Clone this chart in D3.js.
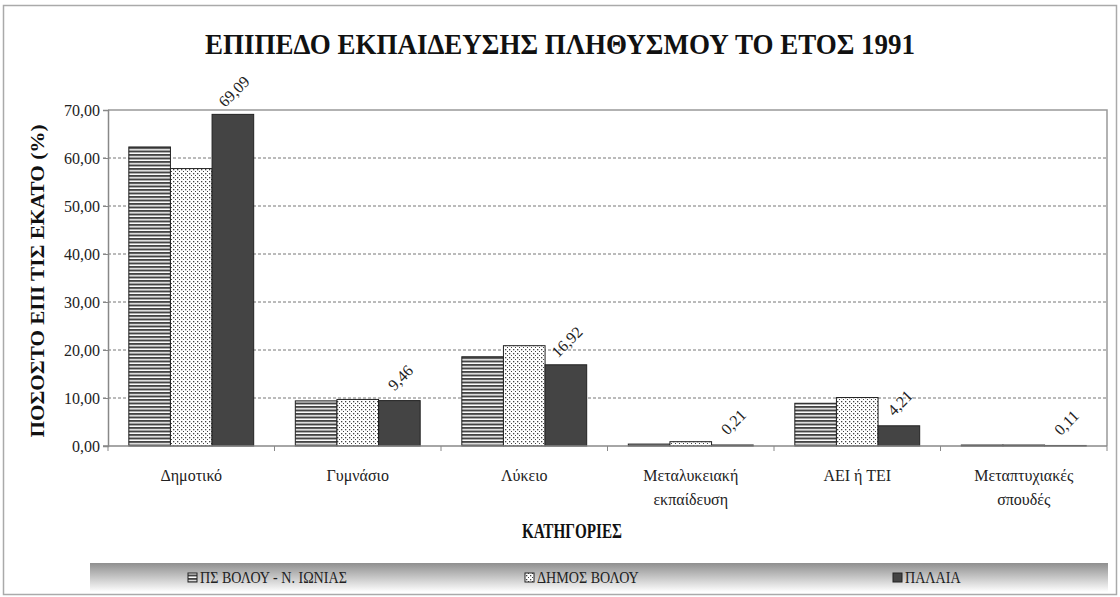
<!DOCTYPE html>
<html>
<head>
<meta charset="utf-8">
<script src="https://cdn.jsdelivr.net/npm/d3@7"></script>
<style>
  body { margin:0; background:#fff; }
</style>
</head>
<body>
<div id="chart"></div>
<script>
// data
var categories = [["Δημοτικό"], ["Γυμνάσιο"], ["Λύκειο"], ["Μεταλυκειακή", "εκπαίδευση"], ["ΑΕΙ ή ΤΕΙ"], ["Μεταπτυχιακές", "σπουδές"]]
var seriesNames = ["ΠΣ ΒΟΛΟΥ - Ν. ΙΩΝΙΑΣ", "ΔΗΜΟΣ ΒΟΛΟΥ", "ΠΑΛΑΙΑ"]
var psVolou = [62.3, 9.4, 18.6, 0.4, 8.9, 0.2]
var dimosVolou = [57.8, 9.7, 20.9, 0.9, 10.1, 0.2]
var palaia = [69.09, 9.46, 16.92, 0.21, 4.21, 0.11]
var yTicks = [0, 10, 20, 30, 40, 50, 60, 70]

var W = 1120, H = 597
var pLeft = 108, pRight = 1107, pTop = 110, pBottom = 446
var serif = '"Liberation Serif", "Times New Roman", Times, serif'

var svg = d3.select('#chart').append('svg')
  .attr('width', W).attr('height', H)
  .attr('font-family', serif)

var defs = svg.append('defs')
var hp = defs.append('pattern').attr('id', 'hlines')
  .attr('patternUnits', 'userSpaceOnUse').attr('width', 6).attr('height', 3.5)
hp.append('rect').attr('width', 6).attr('height', 3.5).attr('fill', '#fff')
hp.append('rect').attr('width', 6).attr('height', 2).attr('fill', '#444')
var dp = defs.append('pattern').attr('id', 'dots')
  .attr('patternUnits', 'userSpaceOnUse').attr('width', 4).attr('height', 4)
dp.append('rect').attr('width', 4).attr('height', 4).attr('fill', '#fff')
dp.append('rect').attr('x', 1).attr('y', 1).attr('width', 1.3).attr('height', 1.3).attr('fill', '#444')
dp.append('rect').attr('x', 3).attr('y', 3).attr('width', 1.3).attr('height', 1.3).attr('fill', '#444')
var lg = defs.append('linearGradient').attr('id', 'legbg')
  .attr('x1', 0).attr('y1', 0).attr('x2', 0).attr('y2', 1)
lg.append('stop').attr('offset', '0%').attr('stop-color', '#8f8f8f')
lg.append('stop').attr('offset', '100%').attr('stop-color', '#fff')
var fills = ['url(#hlines)', 'url(#dots)', '#444']

// outer frame
svg.append('rect').attr('x', 3.5).attr('y', 5.5).attr('width', 1113).attr('height', 589)
  .attr('fill', 'none').attr('stroke', '#aaa').attr('stroke-width', 1.5)

var x = d3.scaleBand().domain(d3.range(categories.length)).range([pLeft, pRight])
var xs = d3.scaleBand().domain([0, 1, 2]).range([0, x.bandwidth()]).paddingOuter(0.5)
var y = d3.scaleLinear().domain([0, 70]).range([pBottom, pTop])

// grid
svg.append('g').selectAll('line').data(yTicks.filter(function(d){ return d > 0 && d < 70 }))
  .enter().append('line')
  .attr('x1', pLeft - 5).attr('x2', pRight)
  .attr('y1', function(d){ return y(d) }).attr('y2', function(d){ return y(d) })
  .attr('stroke', '#777').attr('stroke-dasharray', '3,2').attr('stroke-width', 1)

// plot frame top/right
svg.append('path').attr('d', 'M' + pLeft + ',' + pTop + 'H' + pRight + 'V' + pBottom)
  .attr('fill', 'none').attr('stroke', '#999').attr('stroke-width', 1.5)

var series = [psVolou, dimosVolou, palaia]
series.forEach(function(vals, s){
  svg.append('g').selectAll('rect').data(vals).enter().append('rect')
    .attr('x', function(d, i){ return x(i) + xs(s) })
    .attr('width', xs.bandwidth())
    .attr('y', function(d){ return y(d) })
    .attr('height', function(d){ return pBottom - y(d) })
    .attr('fill', fills[s])
    .attr('stroke', '#222').attr('stroke-width', 1)
})

var fmt = function(d){ return d3.format('.2f')(d).replace('.', ',') }

// value labels on the third series
svg.append('g').selectAll('text').data(palaia).enter().append('text')
  .attr('transform', function(d, i){
    return 'translate(' + (x(i) + xs(2) + xs.bandwidth() / 2 + 1) + ',' + (y(d) - 23) + ') rotate(-45)'
  })
  .attr('text-anchor', 'middle').attr('dy', '0.35em')
  .attr('font-size', 16).attr('fill', '#222')
  .text(fmt)

// y axis
var yAxis = svg.append('g').attr('transform', 'translate(' + pLeft + ',0)')
  .call(d3.axisLeft(y).tickValues(yTicks).tickSize(5).tickFormat(fmt))
yAxis.attr('font-family', serif).attr('font-size', 16)
yAxis.select('.domain').attr('stroke', '#888').attr('stroke-width', 1.5)
yAxis.selectAll('.tick line').attr('stroke', '#888')
yAxis.selectAll('.tick text').attr('x', -8).attr('fill', '#222')

// x axis
var xAxis = svg.append('g').attr('transform', 'translate(0,' + pBottom + ')')
xAxis.append('line').attr('x1', pLeft - 5).attr('x2', pRight).attr('stroke', '#888').attr('stroke-width', 1.5)
xAxis.selectAll('line.t').data(d3.range(categories.length + 1)).enter().append('line')
  .attr('x1', function(i){ return pLeft + i * x.step() }).attr('x2', function(i){ return pLeft + i * x.step() })
  .attr('y1', 0).attr('y2', 5).attr('stroke', '#888')
var cl = svg.append('g').selectAll('text').data(categories).enter().append('text')
  .attr('text-anchor', 'middle').attr('font-size', 16).attr('fill', '#222')
  .attr('x', function(d, i){ return x(i) + x.bandwidth() / 2 })
  .attr('y', 481)
cl.selectAll('tspan').data(function(d){ return d }).enter().append('tspan')
  .attr('x', function(){ return this.parentNode.getAttribute('x') })
  .attr('dy', function(d, j){ return j ? 24 : 0 })
  .text(function(d){ return d })

// titles
svg.append('text').attr('x', 560).attr('y', 54).attr('text-anchor', 'middle')
  .attr('font-size', 30).attr('font-weight', 'bold').attr('fill', '#111')
  .attr('textLength', 710).attr('lengthAdjust', 'spacingAndGlyphs')
  .text('ΕΠΙΠΕΔΟ ΕΚΠΑΙΔΕΥΣΗΣ ΠΛΗΘΥΣΜΟΥ ΤΟ ΕΤΟΣ 1991')
svg.append('text').attr('x', 572).attr('y', 538).attr('text-anchor', 'middle')
  .attr('font-size', 21).attr('font-weight', 'bold').attr('fill', '#111')
  .attr('textLength', 100).attr('lengthAdjust', 'spacingAndGlyphs')
  .text('ΚΑΤΗΓΟΡΙΕΣ')
svg.append('text').attr('transform', 'translate(44,' + ((pTop + pBottom) / 2 + 3) + ') rotate(-90)')
  .attr('text-anchor', 'middle').attr('font-size', 19).attr('font-weight', 'bold').attr('fill', '#111')
  .attr('textLength', 313).attr('lengthAdjust', 'spacingAndGlyphs')
  .text('ΠΟΣΟΣΤΟ ΕΠΙ ΤΙΣ ΕΚΑΤΟ (%)')

// legend
svg.append('rect').attr('x', 90).attr('y', 563).attr('width', 1018).attr('height', 29)
  .attr('fill', 'url(#legbg)')
var legX = [188, 525, 893]
var leg = svg.append('g').selectAll('g').data(seriesNames).enter().append('g')
  .attr('transform', function(d, i){ return 'translate(' + legX[i] + ',578)' })
leg.append('rect').attr('x', 0).attr('y', -5).attr('width', 9).attr('height', 9)
  .attr('fill', function(d, i){ return fills[i] }).attr('stroke', '#222')
leg.append('text').attr('x', 12).attr('y', 5).attr('font-size', 16).attr('fill', '#222')
  .text(function(d){ return d })
  .each(function(){
    // the original legend font is a bit narrower
    d3.select(this).attr('textLength', this.getComputedTextLength() * 0.88).attr('lengthAdjust', 'spacingAndGlyphs')
  })
</script>
</body>
</html>
